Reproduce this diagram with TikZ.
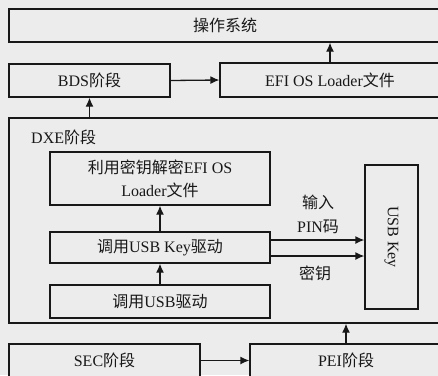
\documentclass[tikz,border=0pt]{standalone}
\usepackage{fontspec}
\setmainfont{Liberation Serif}
\newfontfamily\cjk{Noto Sans CJK SC}
\usetikzlibrary{arrows.meta}
\definecolor{bg}{RGB}{236,236,237}
\definecolor{ln}{RGB}{24,24,24}
\begin{document}
\begin{tikzpicture}[x=1pt,y=-1pt,
  box/.style={draw=ln,line width=1.3pt,fill=bg,inner sep=0pt,text=ln,font=\fontsize{16}{23}\selectfont},
  lbl/.style={inner sep=0pt,text=ln,font=\fontsize{16}{24}\selectfont},
  arr/.style={draw=ln,line width=1.3pt,-{Latex[length=9pt,width=8pt]}}]
\fill[bg] (0,0) rectangle (438,375);
\useasboundingbox (0,0) rectangle (438,375);
\clip (0,0) rectangle (438,375);
\node[box,minimum width=432pt,minimum height=33pt] (os) at (225,25.5) {\cjk 操作系统};
\node[box,minimum width=161pt,minimum height=33pt] (bds) at (89.5,80.5) {BDS{\cjk 阶段}};
\node[box,minimum width=220pt,minimum height=34pt] (efi) at (330,80) {EFI OS Loader{\cjk 文件}};
\node[box,minimum width=431pt,minimum height=205pt] (dxe) at (224.5,220.5) {};
\node[lbl,anchor=west] (dxel) at (31,137) {DXE{\cjk 阶段}};
\node[box,align=center,minimum width=220pt,minimum height=53pt] (dec) at (160,178.5) {{\cjk 利用密钥解密}EFI OS\\Loader{\cjk 文件}};
\node[box,minimum width=220pt,minimum height=31pt] (ukd) at (160,247.5) {{\cjk 调用}USB Key{\cjk 驱动}};
\node[box,minimum width=220pt,minimum height=33pt] (usbd) at (160,301.5) {{\cjk 调用}USB{\cjk 驱动}};
\node[box,minimum width=53pt,minimum height=144pt] (key) at (391.5,237) {};
\node[lbl,rotate=-90] (keyt) at (key.center) {USB Key};
\node[box,minimum width=191pt,minimum height=33pt] (sec) at (104.5,360.5) {SEC{\cjk 阶段}};
\node[box,minimum width=192pt,minimum height=33pt] (pei) at (346,360.5) {PEI{\cjk 阶段}};
\node[lbl,align=center] (pin) at (318,214) {{\cjk 输入}\\PIN{\cjk 码}};
\node[lbl] (mi) at (315,273) {\cjk 密钥};
\draw[arr] (bds.east) -- (efi.west);
\draw[arr] (efi.north) -- (efi.north |- os.south);
\draw[arr] (bds.south |- dxe.north) -- (bds.south);
\draw[arr] (ukd.north) -- (dec.south);
\draw[arr] (usbd.north) -- (ukd.south);
\coordinate (a1) at ([yshift=7.5pt]ukd.east);
\coordinate (a2) at ([yshift=-8.5pt]ukd.east);
\draw[arr] (a1) -- (a1 -| key.west);
\draw[arr] (a2) -- (a2 -| key.west);
\draw[arr] (pei.north) -- (pei.north |- dxe.south);
\draw[arr] (sec.east) -- (pei.west);
\end{tikzpicture}
\end{document}
